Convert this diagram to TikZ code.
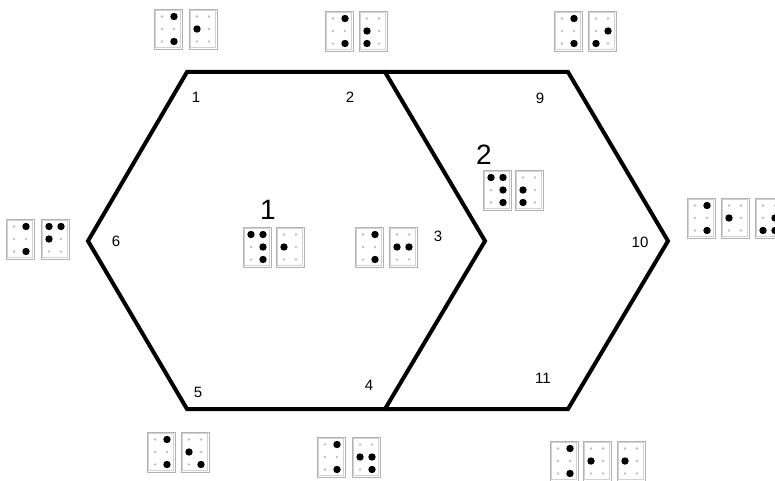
\documentclass[tikz,border=0pt]{standalone}
\usepackage{fontspec}
\setmainfont{Liberation Sans}
\tikzset{
  hexline/.style={line width=4pt, line join=miter},
  vlabel/.style={inner sep=0pt, font=\fontsize{15}{15}\selectfont},
  biglabel/.style={inner sep=0pt, font=\fontsize{28}{28}\selectfont},
  cellframe/.style={draw=gray!60, line width=0.7pt},
  cellinner/.style={draw=gray!35, line width=0.4pt},
  emptydot/.style={fill=gray!50},
  fulldot/.style={fill=black},
}
\newcommand{\brcell}[3]{%
  \draw[cellframe] (#1-14,#2-20) rectangle (#1+14,#2+20);
  \draw[cellinner] (#1-12.5,#2-18.5) rectangle (#1+12.5,#2+18.5);
  \foreach \d in {1,...,6}{%
    \pgfmathsetmacro\dx{\d>3 ? 6 : -6}%
    \pgfmathsetmacro\dy{(mod(\d-1,3)-1)*12.5}%
    \fill[emptydot] (#1+\dx,#2+\dy) circle (1.4pt);
  }
  \foreach \d in {#3}{%
    \pgfmathsetmacro\dx{\d>3 ? 6 : -6}%
    \pgfmathsetmacro\dy{(mod(\d-1,3)-1)*12.5}%
    \fill[fulldot] (#1+\dx,#2+\dy) circle (3.7pt);
  }
}
\begin{document}
\begin{tikzpicture}[x=1pt,y=-1pt]
\useasboundingbox (0,0) rectangle (775,481);
\clip (0,0) rectangle (775,481);
% hexagon vertices
\coordinate (v1) at (187,72);
\coordinate (v2) at (385,72);
\coordinate (v3) at (485,241);
\coordinate (v4) at (385,409);
\coordinate (v5) at (187,409);
\coordinate (v6) at (88,241);
\coordinate (v9) at (568,72);
\coordinate (v10) at (668,241);
\coordinate (v11) at (568,409);
\draw[hexline] (v1) -- (v2) -- (v3) -- (v4) -- (v5) -- (v6) -- cycle;
\draw[hexline] (v2) -- (v9) -- (v10) -- (v11) -- (v4);
% vertex labels
\node[vlabel] (l1) at (196,97) {1};
\node[vlabel] (l2) at (350,97) {2};
\node[vlabel] (l9) at (540,98) {9};
\node[vlabel] (l6) at (116,241) {6};
\node[vlabel] (l3) at (438,236) {3};
\node[vlabel] (l10) at (640,242) {10};
\node[vlabel] (l5) at (198,392) {5};
\node[vlabel] (l4) at (369,385) {4};
\node[vlabel] (l11) at (543,378) {11};
\node[biglabel] (f1) at (268,210) {1};
\node[biglabel] (f2) at (484,155) {2};
% braille groups
\brcell{168}{29}{4,6}  \brcell{203}{29}{2}
\brcell{339}{31}{4,6}  \brcell{373}{31}{2,3}
\brcell{568}{31}{4,6}  \brcell{602}{31}{3,5}
\brcell{20}{239}{4,6}  \brcell{55}{239}{1,2,4}
\brcell{257}{247}{1,4,5,6} \brcell{290}{247}{2}
\brcell{369}{247}{4,6}  \brcell{403}{247}{2,5}
\brcell{497}{190}{1,4,5,6} \brcell{529}{190}{2,3}
\brcell{701}{218}{4,6} \brcell{735}{218}{2} \brcell{769}{218}{3,5,6}
\brcell{161}{452}{4,6} \brcell{195}{452}{2,6}
\brcell{331}{457}{4,6} \brcell{366}{457}{2,5,6}
\brcell{564}{461}{4,6} \brcell{597}{461}{2} \brcell{631}{461}{2}
\end{tikzpicture}
\end{document}
